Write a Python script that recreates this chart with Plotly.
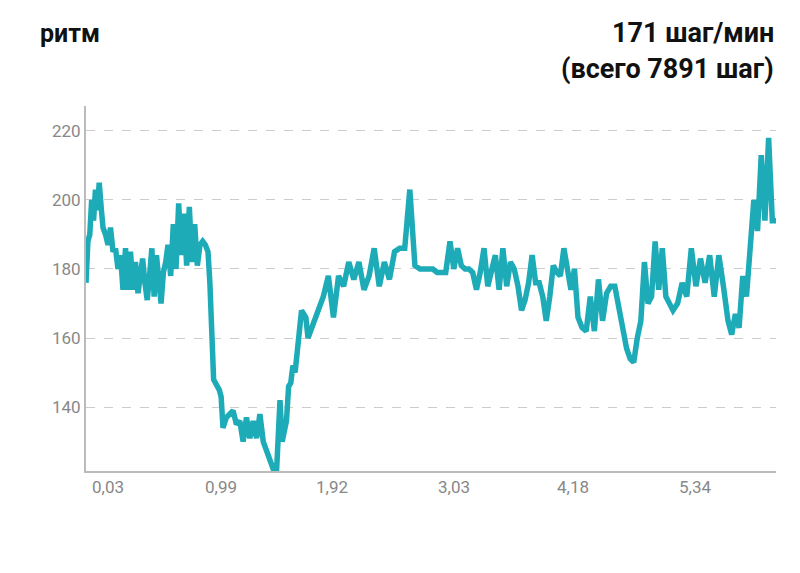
import plotly.graph_objects as go

# cadence samples (steps/min), grouped in stretches of the run;
# each stretch has its start/end on the track scale used for the axis
stretches = [
    (78, 95, [176, 188, 190, 200, 194, 203, 197, 205, 198]),
    (95, 130, [192, 190, 187, 192, 185, 186, 180, 184, 174, 186, 174, 185, 174, 182]),
    (130, 160, [173, 178, 183, 176, 171, 178, 186, 172, 184, 177, 170, 179, 182]),
    (160, 200, [187, 178, 193, 180, 199, 184, 196, 181, 198, 182, 193, 181, 187, 188, 187]),
    (200, 215, [185, 176, 165, 148, 147, 146, 145, 143]),
    (215, 272, [134, 137, 138, 139, 135, 136, 130, 137, 131, 136, 131, 138, 130, 127, 124, 122, 122]),
    (272, 300, [142, 130, 134, 136, 146, 147, 152, 150, 156, 163, 168, 167, 166]),
    (300, 412, [160, 164, 168, 172, 178, 166, 178, 175, 182, 177, 182, 174, 178, 186, 175, 182,
                177, 185, 186, 186, 203, 181]),
    (412, 442, [180, 180, 180, 180, 179, 179, 179]),
    (442, 510, [188, 180, 186, 181, 180, 180, 179, 174, 179, 186, 175, 180, 184, 174, 186, 175, 182, 180]),
    (510, 570, [175, 168, 171, 176, 184, 176, 176, 172, 165, 172, 181, 179, 178, 186, 179, 174, 180]),
    (570, 615, [166, 163, 162, 172, 162, 177, 165, 173, 175, 175, 169]),
    (615, 665, [163, 157, 154, 153, 160, 165, 182, 170, 172, 188, 174, 186, 172, 170]),
    (665, 720, [168, 170, 176, 172, 186, 175, 183, 176, 184, 172, 184, 175]),
    (720, 768, [165, 161, 167, 163, 178, 172, 188, 200, 191, 213, 194, 218, 194]),
]

tick_labels = ["0,03", "0,99", "1,92", "3,03", "4,18", "5,34"]
tick_pos = [100, 213, 324, 446, 565, 687]

x, cadence = [], []
for a, b, vals in stretches:
    k = len(vals)
    for i, v in enumerate(vals):
        x.append(a + (b - a) * i / k)
        cadence.append(v)
x.append(768)
cadence.append(194)

fig = go.Figure(go.Scatter(
    x=x, y=cadence, mode="lines",
    line=dict(color="#1eabb8", width=5.5),
    hoverinfo="skip",
))

fig.update_layout(
    width=800, height=573,
    margin=dict(l=78, r=32, t=98, b=110),
    paper_bgcolor="white", plot_bgcolor="white",
    showlegend=False,
    font=dict(family="Roboto", color="#888888", size=17),
    xaxis=dict(
        range=[78, 768],
        tickvals=tick_pos, ticktext=tick_labels,
        showgrid=False, zeroline=False,
        showline=True, linecolor="#bbbbbb", linewidth=2,
        ticks="", tickfont=dict(size=17, color="#888888"),
    ),
    yaxis=dict(
        range=[121.5, 227.2],
        tickvals=[140, 160, 180, 200, 220],
        showgrid=True, gridcolor="#cccccc", griddash="dash", gridwidth=1,
        zeroline=False,
        showline=True, linecolor="#bbbbbb", linewidth=2,
        ticks="", tickfont=dict(size=17, color="#888888"),
    ),
    shapes=[dict(type="rect", xref="paper", yref="paper",
                 x0=-0.2, x1=1.2, y0=-0.285, y1=-0.45,
                 fillcolor="#f2f2f2", line=dict(width=0), layer="above")],
    annotations=[
        dict(text="<b>ритм</b>", xref="paper", yref="paper", x=-0.07, y=1.2,
             xanchor="left", yanchor="middle", showarrow=False,
             font=dict(family="Roboto", size=25, color="#111111")),
        dict(text="<b>171 шаг/мин</b>", xref="paper", yref="paper", x=1.0, y=1.2,
             xanchor="right", yanchor="middle", showarrow=False,
             font=dict(family="Roboto", size=27, color="#111111")),
        dict(text="<b>(всего 7891 шаг)</b>", xref="paper", yref="paper", x=1.0, y=1.1,
             xanchor="right", yanchor="middle", showarrow=False,
             font=dict(family="Roboto", size=27, color="#111111")),
    ],
)

fig.write_html("out.html")
